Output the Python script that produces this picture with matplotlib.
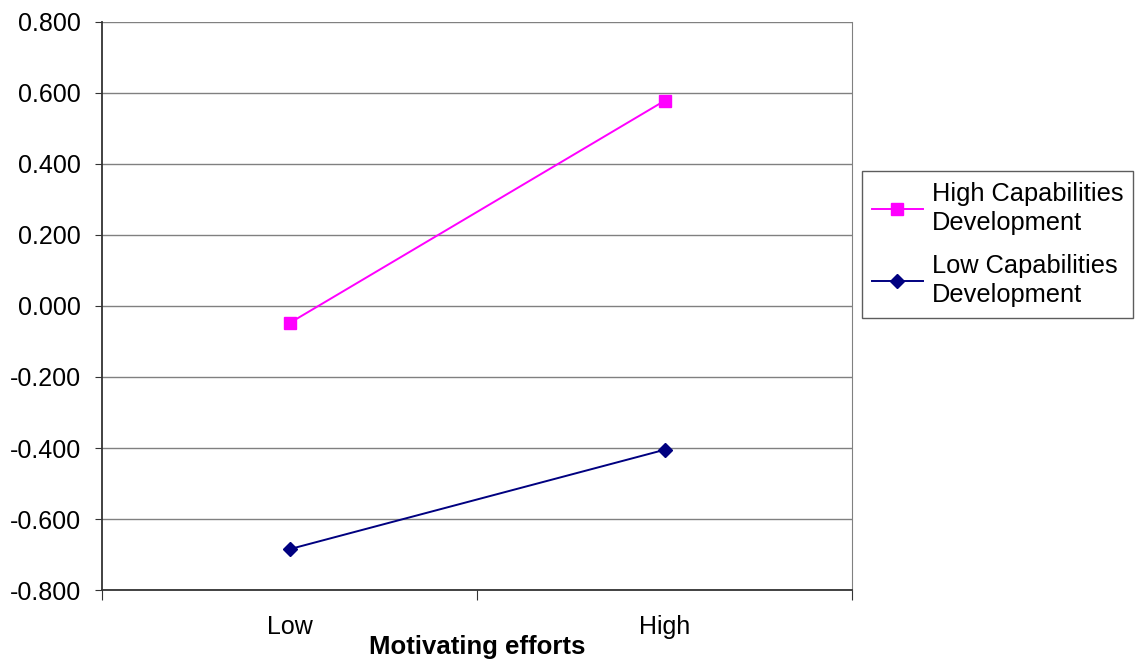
import matplotlib.pyplot as plt
from matplotlib.ticker import FixedLocator, FuncFormatter

plt.rcParams['font.family'] = ['Liberation Sans', 'DejaVu Sans']

categories = ["Low", "High"]
high_cap = [-0.048, 0.578]
low_cap = [-0.685, -0.405]
yticks = [-0.8, -0.6, -0.4, -0.2, 0.0, 0.2, 0.4, 0.6, 0.8]

fig = plt.figure(figsize=(11.39, 6.66), dpi=100)
ax = fig.add_axes([0.0896, 0.1141, 0.6585, 0.8529])

xpos = [0.5, 1.5]
ax.plot(xpos, high_cap, color="#FF00FF", lw=1.4, marker="s", ms=8,
        label="High Capabilities\nDevelopment")
ax.plot(xpos, low_cap, color="#000080", lw=1.4, marker="D", ms=7,
        label="Low Capabilities\nDevelopment")

ax.set_xlim(0, 2)
ax.set_ylim(-0.8, 0.8)
ax.set_yticks(yticks)
ax.yaxis.set_major_formatter(FuncFormatter(lambda v, p: f"{v:.3f}"))
ax.yaxis.grid(True, color="#808080", lw=1)
ax.set_axisbelow(True)

# category boundaries as ticks, labels in between
ax.xaxis.set_major_locator(FixedLocator([0, 1, 2]))
ax.xaxis.set_minor_locator(FixedLocator(xpos))
ax.set_xticklabels([])
ax.set_xticklabels(categories, minor=True)
ax.tick_params(axis="x", which="major", length=7, direction="out", color="#333333")
ax.tick_params(axis="x", which="minor", length=0, pad=18, labelsize=18)
ax.tick_params(axis="y", length=5, direction="out", color="#333333", labelsize=18, pad=10)

for s in ["left", "bottom"]:
    ax.spines[s].set_color("#333333")
    ax.spines[s].set_linewidth(1.3)
ax.spines["right"].set_color("#808080")
ax.spines["top"].set_visible(False)

ax.set_xlabel("Motivating efforts", fontsize=18.5, fontweight="bold", labelpad=-3)

leg = ax.legend(loc="upper left", bbox_to_anchor=(1.013, 0.737), fontsize=18.3,
                frameon=True, fancybox=False, edgecolor="#333333",
                borderaxespad=0, handlelength=2.0, labelspacing=0.73,
                borderpad=0.4, handletextpad=0.35)
leg.get_frame().set_linewidth(1.0)
for t in leg.get_texts():
    t.set_linespacing(1.3)

fig.savefig("out.png", dpi=100)
